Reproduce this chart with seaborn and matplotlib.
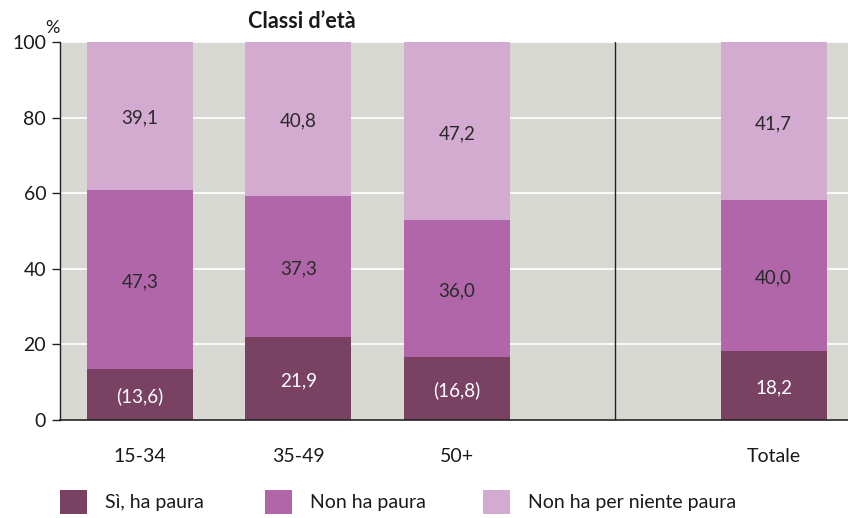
import matplotlib
matplotlib.use("Agg")
import matplotlib.pyplot as plt
import seaborn as sns
import pandas as pd
from matplotlib.patches import Patch

categories = ["15-34", "35-49", "50+", "Totale"]
si_paura = [13.6, 21.9, 16.8, 18.2]
non_paura = [47.3, 37.3, 36.0, 40.0]
per_niente = [39.1, 40.8, 47.2, 41.7]
si_labels = ["(13,6)", "21,9", "(16,8)", "18,2"]
series_names = ["Sì, ha paura", "Non ha paura", "Non ha per niente paura"]
colors = ["#7a4262", "#b066a8", "#d3aad0"]
order = ["15-34", "35-49", "50+", " ", "Totale"]

sns.set_theme(style="white")
plt.rcParams["font.family"] = ["Lato", "DejaVu Sans"]

fig = plt.figure(figsize=(8.48, 5.18), dpi=100)
ax = fig.add_axes([0.0708, 0.189, 0.9292, 0.730])
ax.set_facecolor("#d7d8d2")

df = pd.DataFrame({"cat": categories, "si": si_paura, "non": non_paura, "niente": per_niente})
df["b2"] = df["si"] + df["non"]

common = dict(data=df, x="cat", order=order, width=0.67, ax=ax, zorder=3,
              edgecolor="none", linewidth=0)
sns.barplot(y="si", color=colors[0], saturation=1, **common)
sns.barplot(y="non", bottom=df["si"], color=colors[1], saturation=1, **common)
sns.barplot(y="niente", bottom=df["b2"], color=colors[2], saturation=1, **common)

pos = {c: order.index(c) for c in categories}
for i, c in enumerate(categories):
    x = pos[c]
    ax.text(x, si_paura[i] / 2 - 0.6, si_labels[i], ha="center", va="center",
            color="white", fontsize=13.5, zorder=5)
    ax.text(x, si_paura[i] + non_paura[i] / 2 - 0.6, f"{non_paura[i]:.1f}".replace(".", ","),
            ha="center", va="center", color="#2a2a2a", fontsize=13.5, zorder=5)
    ax.text(x, si_paura[i] + non_paura[i] + per_niente[i] / 2 - 0.6,
            f"{per_niente[i]:.1f}".replace(".", ","),
            ha="center", va="center", color="#2a2a2a", fontsize=13.5, zorder=5)

ax.set_ylim(0, 100)
ax.set_xlim(-0.505, 4.47)
ax.set_yticks([0, 20, 40, 60, 80, 100])
ax.yaxis.grid(True, color="white", linewidth=1.2, zorder=1)
ax.set_axisbelow(True)
ax.axvline(3, color="#222222", linewidth=1.0, zorder=4)

for s in ["top", "right"]:
    ax.spines[s].set_visible(False)
ax.spines["left"].set_color("#222222")
ax.spines["bottom"].set_color("#222222")
ax.spines["left"].set_linewidth(1.0)
ax.spines["bottom"].set_linewidth(1.2)
ax.spines["bottom"].set_zorder(6)

ax.tick_params(axis="y", which="both", left=True, length=6, width=1, color="#222222",
               labelsize=14, labelcolor="#1a1a1a", pad=4)
ax.tick_params(axis="x", bottom=False, labelsize=14, labelcolor="#1a1a1a", pad=14)
ax.set_xticks(range(len(order)))
ax.set_xticklabels(order)
ax.set_xlabel("")
ax.set_ylabel("")

fig.text(52 / 848, 1 - 28 / 518, "%", ha="center", va="center", fontsize=13, color="#1a1a1a")
fig.text(302 / 848, 1 - 22 / 518, "Classi d’età", ha="center", va="center", fontsize=15.5,
         fontweight="bold", color="#1a1a1a")

leg_x = [60, 265, 483]
for name, col, lx in zip(series_names, colors, leg_x):
    lg = fig.legend([Patch(facecolor=col, edgecolor="none")], [name], loc="center left",
                    bbox_to_anchor=(lx / 848, 1 - 502 / 518), frameon=False, fontsize=14,
                    handlelength=1.4, handleheight=1.6, handletextpad=0.9,
                    borderpad=0, borderaxespad=0, labelcolor="#1a1a1a")

fig.savefig("out.png", dpi=100)
